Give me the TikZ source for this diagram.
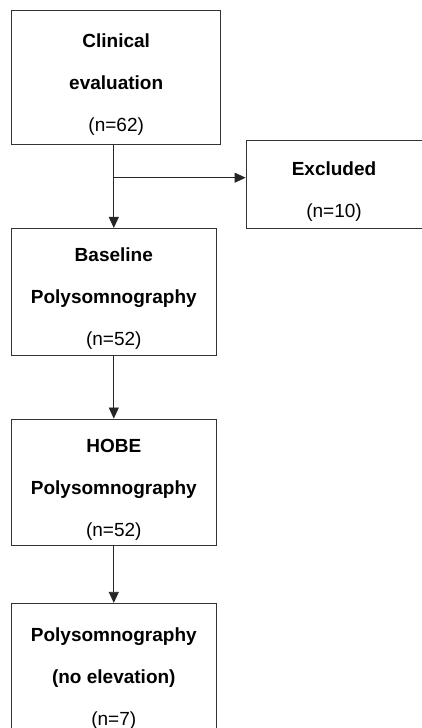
\documentclass[tikz,border=0pt]{standalone}
\usepackage{fontspec}
\setmainfont{Liberation Sans}
\usetikzlibrary{arrows.meta}
\newcommand{\boxstrut}{\rule{0pt}{28pt}}

\begin{document}
\begin{tikzpicture}[x=1pt,y=-1pt,
    flow_node/.style={rectangle,draw=black!80,line width=0.8pt,align=center,inner sep=0pt,
        font=\fontsize{19}{42}\selectfont},
    flow_arrow/.style={draw=black!85,line width=0.8pt,-{Triangle[length=11pt,width=10pt]}}]

    \useasboundingbox (0,0) rectangle (422,728);
    \node[flow_node,minimum width=209pt,minimum height=134pt] (1) at (116.2,77) {\boxstrut\textbf{Clinical}\\\textbf{evaluation}\\(n=62)};
    \node[flow_node,minimum width=176pt,minimum height=88pt] (2) at (334,184) {\boxstrut\textbf{Excluded}\\(n=10)};
    \node[flow_node,minimum width=204.3pt,minimum height=126.7pt] (3) at (113.8,291.7) {\boxstrut\textbf{Baseline}\\\textbf{Polysomnography}\\(n=52)};
    \node[flow_node,minimum width=204.3pt,minimum height=126.7pt] (4) at (113.8,482.3) {\boxstrut\textbf{HOBE}\\\textbf{Polysomnography}\\(n=52)};
    \node[flow_node,minimum width=204.3pt,minimum height=136pt] (5) at (113.8,671.3) {\boxstrut\textbf{Polysomnography}\\\textbf{(no elevation)}\\(n=7)};
    \coordinate (split) at (113.8,177.7);

    \draw[flow_arrow] (3.north |- 1.south) -- (3.north);
    \draw[flow_arrow] (split) -- (split -| 2.west);
    \draw[flow_arrow] (3) -- (4);
    \draw[flow_arrow] (4) -- (5);
\end{tikzpicture}
\end{document}
